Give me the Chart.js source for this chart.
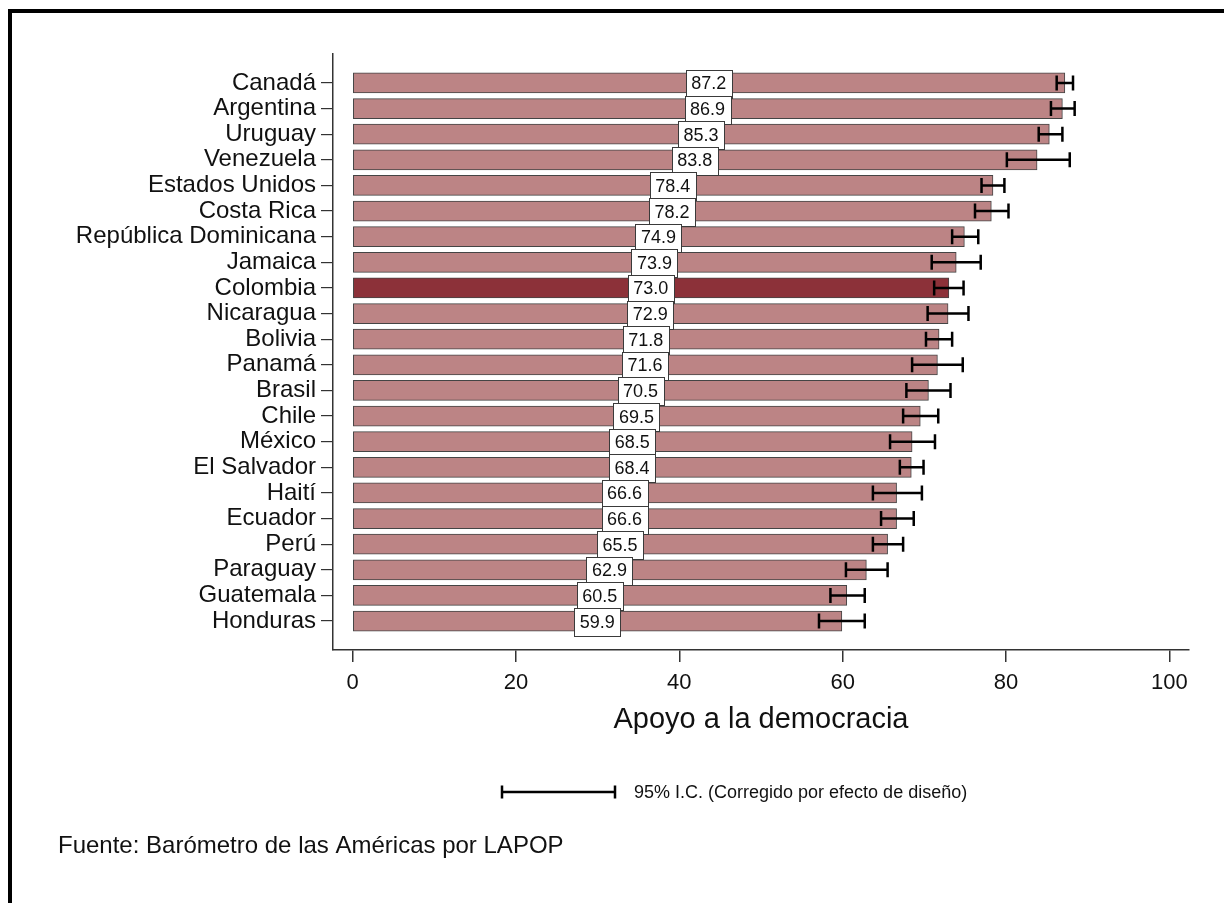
<!DOCTYPE html>
<html>
<head>
<meta charset="utf-8">
<script src="https://cdn.jsdelivr.net/npm/chart.js@4/dist/chart.umd.min.js"></script>
<style>
  html, body { margin: 0; padding: 0; background: #fff; }
  #wrap { width: 1224px; height: 903px; }
</style>
</head>
<body>
<div id="wrap"><canvas id="c" width="1224" height="903"></canvas></div>
<script>
// Support for democracy by country, with 95% confidence intervals
const countries = ['Canadá', 'Argentina', 'Uruguay', 'Venezuela', 'Estados Unidos', 'Costa Rica',
  'República Dominicana', 'Jamaica', 'Colombia', 'Nicaragua', 'Bolivia', 'Panamá', 'Brasil',
  'Chile', 'México', 'El Salvador', 'Haití', 'Ecuador', 'Perú', 'Paraguay', 'Guatemala', 'Honduras'];
const support = [87.2, 86.9, 85.3, 83.8, 78.4, 78.2, 74.9, 73.9, 73.0, 72.9, 71.8, 71.6, 70.5,
  69.5, 68.5, 68.4, 66.6, 66.6, 65.5, 62.9, 60.5, 59.9];
const ciLow = [86.2, 85.5, 84.0, 80.1, 77.0, 76.2, 73.4, 70.9, 71.2, 70.4, 70.2, 68.5, 67.8,
  67.4, 65.8, 67.0, 63.7, 64.7, 63.7, 60.4, 58.5, 57.1];
const ciHigh = [88.2, 88.4, 86.9, 87.8, 79.8, 80.3, 76.6, 76.9, 74.8, 75.4, 73.4, 74.7, 73.2,
  71.7, 71.3, 69.9, 69.7, 68.7, 67.4, 65.5, 62.7, 62.7];
const xTicks = [0, 20, 40, 60, 80, 100];
const highlight = 'Colombia';
const axisTitle = 'Apoyo a la democracia';
const legendText = '95% I.C. (Corregido por efecto de diseño)';
const sourceText = 'Fuente: Barómetro de las Américas por LAPOP';

const FONT = 'Arial, "Liberation Sans", Helvetica, sans-serif';
const ROSE = '#bc8485';
const DARK = '#8c3139';
const AXIS = '#333333';

const decorations = {
  id: 'decorations',
  beforeDraw(chart) {
    const ctx = chart.ctx;
    ctx.save();
    ctx.fillStyle = '#ffffff';
    ctx.fillRect(0, 0, chart.width, chart.height);
    // frame lines along the top and left edges
    ctx.fillStyle = '#000000';
    ctx.fillRect(8, 9, chart.width - 8, 4);
    ctx.fillRect(8, 9, 4, chart.height - 9);
    ctx.restore();
  },
  afterDatasetsDraw(chart) {
    const ctx = chart.ctx;
    const xs = chart.scales.x, ys = chart.scales.y;
    ctx.save();
    // value boxes at the middle of each bar
    ctx.font = '18px ' + FONT;
    ctx.textAlign = 'center';
    ctx.textBaseline = 'middle';
    support.forEach((v, i) => {
      const cx = xs.getPixelForValue(v / 2);
      const cy = ys.getPixelForValue(i);
      const label = v.toFixed(1);
      const w = Math.round(ctx.measureText(label).width + 11);
      const h = 28;
      const bx = Math.round(cx - w / 2) + 0.5;
      const by = Math.round(cy - h / 2 + 1) + 0.5;
      ctx.fillStyle = '#ffffff';
      ctx.fillRect(bx, by, w, h);
      ctx.strokeStyle = '#3a3a3a';
      ctx.lineWidth = 1;
      ctx.strokeRect(bx, by, w, h);
      ctx.fillStyle = '#111111';
      ctx.fillText(label, cx, cy + 1.5);
    });
    // confidence interval whiskers
    ctx.strokeStyle = '#000000';
    ctx.lineWidth = 2.5;
    ctx.lineCap = 'butt';
    ciLow.forEach((lo, i) => {
      const x1 = xs.getPixelForValue(lo);
      const x2 = xs.getPixelForValue(ciHigh[i]);
      const y = ys.getPixelForValue(i);
      ctx.beginPath();
      ctx.moveTo(x1, y); ctx.lineTo(x2, y);
      ctx.moveTo(x1, y - 7.5); ctx.lineTo(x1, y + 7.5);
      ctx.moveTo(x2, y - 7.5); ctx.lineTo(x2, y + 7.5);
      ctx.stroke();
    });
    ctx.restore();
  },
  afterDraw(chart) {
    const ctx = chart.ctx;
    ctx.save();
    // legend key for the interval whiskers
    const ly = 792;
    ctx.strokeStyle = '#000000';
    ctx.lineWidth = 2.5;
    ctx.beginPath();
    ctx.moveTo(502, ly); ctx.lineTo(615, ly);
    ctx.moveTo(502, ly - 6.5); ctx.lineTo(502, ly + 6.5);
    ctx.moveTo(615, ly - 6.5); ctx.lineTo(615, ly + 6.5);
    ctx.stroke();
    ctx.fillStyle = '#111111';
    ctx.font = '18px ' + FONT;
    ctx.textAlign = 'left';
    ctx.textBaseline = 'middle';
    ctx.fillText(legendText, 634, ly + 1);
    // source note
    ctx.font = '24px ' + FONT;
    ctx.fillText(sourceText, 58, 846);
    ctx.restore();
  }
};

new Chart(document.getElementById('c'), {
  type: 'bar',
  data: {
    datasets: [{
      data: support.map((v, i) => ({ x: v, y: i })),
      backgroundColor: countries.map(c => c === highlight ? DARK : ROSE),
      borderColor: '#444444',
      borderWidth: 1,
      borderSkipped: false,
      barThickness: 20
    }]
  },
  options: {
    indexAxis: 'y',
    responsive: false,
    devicePixelRatio: 1,
    animation: false,
    layout: { padding: { top: 54, right: 35, left: 0, bottom: 166 } },
    plugins: { legend: { display: false }, tooltip: { enabled: false } },
    scales: {
      x: {
        type: 'linear',
        min: -2.4,
        max: 102.4,
        afterBuildTicks: s => { s.ticks = xTicks.map(v => ({ value: v })); },
        afterFit: s => { s.height = 87; },
        grid: { drawOnChartArea: false, tickLength: 12, color: AXIS, lineWidth: 1.5 },
        border: { display: true, color: AXIS, width: 1.5 },
        ticks: { color: '#111111', font: { family: FONT, size: 22 }, padding: 8, maxRotation: 0 },
        title: { display: true, text: axisTitle, color: '#111111', font: { family: FONT, size: 29 }, padding: 0 }
      },
      y: {
        type: 'linear',
        reverse: true,
        offset: false,
        min: -1.13,
        max: 22.13,
        afterBuildTicks: s => { s.ticks = countries.map((c, i) => ({ value: i })); },
        afterFit: s => { s.width = 333; },
        grid: { offset: false, drawOnChartArea: false, tickLength: 12, color: AXIS, lineWidth: 1.2 },
        border: { display: true, color: AXIS, width: 1.5 },
        ticks: {
          color: '#111111',
          font: { family: FONT, size: 24 },
          padding: 5,
          autoSkip: false,
          callback: v => countries[v]
        }
      }
    }
  },
  plugins: [decorations]
});
</script>
</body>
</html>
